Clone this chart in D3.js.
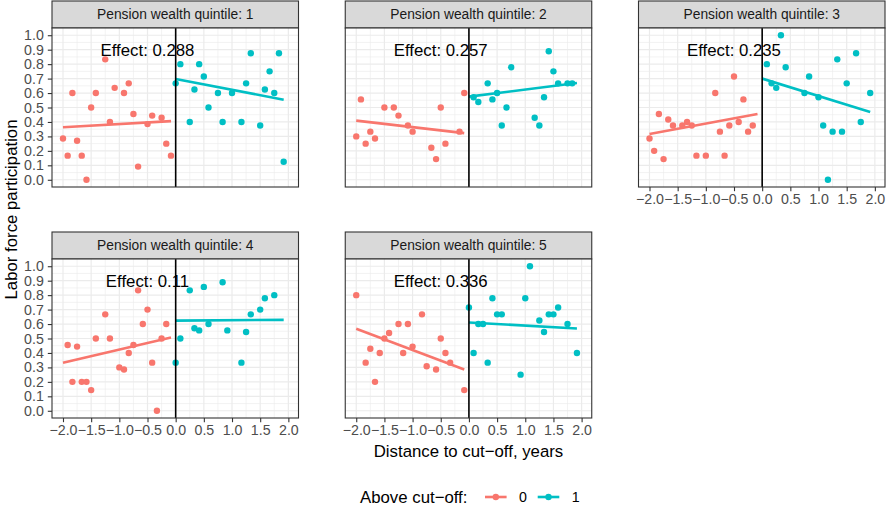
<!DOCTYPE html>
<html>
<head>
<meta charset="utf-8">
<script src="https://cdn.jsdelivr.net/npm/d3@7"></script>
<style>
  body { margin: 0; background: #fff; }
  svg { display: block; font-family: "Liberation Sans", Arial, Helvetica, sans-serif; }
</style>
</head>
<body>
<svg id="chart" width="886" height="506"></svg>
<script>
// values
const quintiles = [1, 2, 3, 4, 5];
const effects = ["0.288", "0.257", "0.235", "0.11", "0.336"];
const groups = ["0", "1"];

const q1Below = [[-2.0,0.286],[-1.917,0.167],[-1.833,0.6],[-1.75,0.27],[-1.667,0.167],[-1.583,0],[-1.5,0.5],[-1.417,0.6],[-1.25,0.833],[-1.167,0.4],[-1.083,0.636],[-0.917,0.6],[-0.833,0.667],[-0.75,0.455],[-0.667,0.091],[-0.5,0.385],[-0.417,0.444],[-0.25,0.429],[-0.167,0.25],[-0.083,0.167]];
const q1Above = [[0,0.667],[0.083,0.8],[0.25,0.4],[0.333,0.625],[0.417,0.8],[0.5,0.714],[0.583,0.5],[0.75,0.6],[0.833,0.4],[1.0,0.6],[1.167,0.4],[1.25,0.667],[1.333,0.875],[1.5,0.375],[1.583,0.625],[1.667,0.75],[1.75,0.6],[1.833,0.875],[1.917,0.125]];

const q2Below = [[-2.0,0.3],[-1.917,0.556],[-1.833,0.25],[-1.75,0.333],[-1.667,0.286],[-1.5,0.5],[-1.333,0.5],[-1.25,0.444],[-1.083,0.375],[-1.0,0.333],[-0.667,0.222],[-0.583,0.143],[-0.5,0.5],[-0.417,0.25],[-0.167,0.333],[-0.083,0.6]];
const q2Above = [[0.083,0.571],[0.167,0.538],[0.333,0.667],[0.417,0.556],[0.5,0.6],[0.583,0.375],[0.667,0.5],[0.75,0.778],[1.167,0.429],[1.25,0.375],[1.333,0.571],[1.417,0.889],[1.5,0.75],[1.583,0.667],[1.75,0.667],[1.833,0.667]];

const q3Below = [[-2.0,0.286],[-1.917,0.2],[-1.833,0.455],[-1.75,0.143],[-1.667,0.417],[-1.583,0.375],[-1.417,0.375],[-1.333,0.4],[-1.25,0.375],[-1.167,0.167],[-1.0,0.167],[-0.833,0.6],[-0.75,0.333],[-0.667,0.167],[-0.583,0.375],[-0.5,0.714],[-0.417,0.4],[-0.333,0.556],[-0.25,0.333],[-0.167,0.375]];
const q3Above = [[0.083,0.8],[0.167,0.667],[0.25,0.636],[0.333,1.0],[0.417,0.778],[0.75,0.6],[0.833,0.714],[1.0,0.571],[1.083,0.375],[1.167,0],[1.25,0.333],[1.333,0.833],[1.417,0.333],[1.5,0.667],[1.667,0.875],[1.75,0.4],[1.917,0.6]];

const q4Below = [[-1.917,0.455],[-1.833,0.2],[-1.75,0.444],[-1.667,0.2],[-1.583,0.2],[-1.5,0.143],[-1.417,0.5],[-1.25,0.667],[-1.167,0.5],[-1.0,0.3],[-0.917,0.286],[-0.833,0.4],[-0.75,0.455],[-0.667,0.833],[-0.583,0.6],[-0.5,0.7],[-0.417,0.333],[-0.333,0],[-0.25,0.5],[-0.167,0.6]];
const q4Above = [[0,0.333],[0.083,0.5],[0.25,0.833],[0.333,0.571],[0.417,0.556],[0.5,0.857],[0.583,0.6],[0.833,0.889],[0.917,0.556],[1.167,0.333],[1.25,0.545],[1.333,0.667],[1.5,0.7],[1.583,0.778],[1.75,0.8]];

const q5Below = [[-2.0,0.8],[-1.833,0.333],[-1.75,0.429],[-1.667,0.2],[-1.583,0.4],[-1.5,0.5],[-1.417,0.538],[-1.25,0.6],[-1.167,0.4],[-1.083,0.6],[-1.0,0.444],[-0.833,0.667],[-0.75,0.308],[-0.583,0.286],[-0.5,0.5],[-0.417,0.4],[-0.333,0.333],[-0.083,0.143]];
const q5Above = [[0,0.714],[0.083,0.4],[0.167,0.6],[0.25,0.6],[0.333,0.333],[0.417,0.778],[0.5,0.667],[0.583,0.667],[0.917,0.25],[1.0,0.778],[1.083,1.0],[1.25,0.625],[1.333,0.545],[1.417,0.667],[1.5,0.667],[1.583,0.714],[1.75,0.6],[1.917,0.4]];

// fitted lines, [x0, y0, x1, y1]
const fitBelow = [[-2.0,0.363,-0.083,0.406],[-2.0,0.409,-0.083,0.323],[-2.0,0.316,-0.083,0.455],[-2.0,0.332,-0.083,0.507],[-2.0,0.567,-0.083,0.286]];
const fitAbove = [[0,0.697,1.917,0.554],[0,0.575,1.917,0.67],[0,0.7,1.917,0.469],[0,0.624,1.917,0.629],[0,0.611,1.917,0.569]];

const belowPts = [q1Below, q2Below, q3Below, q4Below, q5Below];
const abovePts = [q1Above, q2Above, q3Above, q4Above, q5Above];

const xTicks = [-2.0, -1.5, -1.0, -0.5, 0.0, 0.5, 1.0, 1.5, 2.0];
const xMinor = [-1.75, -1.25, -0.75, -0.25, 0.25, 0.75, 1.25, 1.75];
const yTicks = [0, 0.1, 0.2, 0.3, 0.4, 0.5, 0.6, 0.7, 0.8, 0.9, 1.0];
const yMinor = [0.05, 0.15, 0.25, 0.35, 0.45, 0.55, 0.65, 0.75, 0.85, 0.95];

const svg = d3.select("#chart");
const color = d3.scaleOrdinal().domain(groups).range(["#F8766D", "#00BFC4"]);

const colX = [52, 345.25, 638.5];
const stripTop = [1, 232];
const pw = 246.5, stripH = 27, ph = 159;

const x = d3.scaleLinear().domain([-2.195, 2.18]).range([0, pw]);
const y = d3.scaleLinear().domain([-0.05, 1.05]).range([ph, 0]);

const tickFont = 14.2, stripFont = 13.8, titleFont = 16.8;

quintiles.forEach((q, i) => {
    const col = i % 3, row = Math.floor(i / 3);
    const px = colX[col], sy = stripTop[row], py = sy + stripH;

    // strip
    svg.append("rect")
        .attr("x", px).attr("y", sy).attr("width", pw).attr("height", stripH)
        .attr("fill", "#D9D9D9").attr("stroke", "#333333").attr("stroke-width", 1.1);
    svg.append("text")
        .attr("x", px + pw / 2).attr("y", sy + stripH / 2)
        .attr("dy", "0.35em").attr("text-anchor", "middle")
        .attr("font-size", stripFont).attr("fill", "#1A1A1A")
        .text(`Pension wealth quintile: ${q}`);

    const g = svg.append("g").attr("transform", `translate(${px},${py})`);

    g.append("rect").attr("width", pw).attr("height", ph).attr("fill", "#fff");

    // grid
    const grid = g.append("g").attr("stroke", "#EBEBEB").attr("fill", "none");
    grid.selectAll(".xmin").data(xMinor).join("line")
        .attr("x1", d => x(d)).attr("x2", d => x(d)).attr("y1", 0).attr("y2", ph).attr("stroke-width", 0.6);
    grid.selectAll(".ymin").data(yMinor).join("line")
        .attr("y1", d => y(d)).attr("y2", d => y(d)).attr("x1", 0).attr("x2", pw).attr("stroke-width", 0.6);
    grid.selectAll(".xmaj").data(xTicks).join("line")
        .attr("x1", d => x(d)).attr("x2", d => x(d)).attr("y1", 0).attr("y2", ph).attr("stroke-width", 1.2);
    grid.selectAll(".ymaj").data(yTicks).join("line")
        .attr("y1", d => y(d)).attr("y2", d => y(d)).attr("x1", 0).attr("x2", pw).attr("stroke-width", 1.2);

    // points
    const pts = [
        ...belowPts[i].map(d => ({ x: d[0], y: d[1], g: "0" })),
        ...abovePts[i].map(d => ({ x: d[0], y: d[1], g: "1" }))
    ];
    g.selectAll(".dot").data(pts).join("circle")
        .attr("class", "dot")
        .attr("cx", d => x(d.x)).attr("cy", d => y(d.y)).attr("r", 3.2)
        .attr("fill", d => color(d.g));

    // fitted lines
    [[fitBelow[i], "0"], [fitAbove[i], "1"]].forEach(([f, grp]) => {
        g.append("line")
            .attr("x1", x(f[0])).attr("y1", y(f[1]))
            .attr("x2", x(f[2])).attr("y2", y(f[3]))
            .attr("stroke", color(grp)).attr("stroke-width", 2.6);
    });

    // effect label
    g.append("text")
        .attr("x", x(-0.5)).attr("y", y(0.9)).attr("dy", "0.35em")
        .attr("text-anchor", "middle").attr("font-size", titleFont).attr("fill", "#000")
        .text(`Effect: ${effects[i]}`);

    // cut-off line
    g.append("line")
        .attr("x1", x(0)).attr("x2", x(0)).attr("y1", 0).attr("y2", ph)
        .attr("stroke", "#000").attr("stroke-width", 1.6);

    g.append("rect").attr("width", pw).attr("height", ph)
        .attr("fill", "none").attr("stroke", "#333333").attr("stroke-width", 1.1);

    // axes
    if (col === 0) {
        const ya = g.append("g").call(d3.axisLeft(y).tickValues(yTicks).tickFormat(d3.format(".1f")).tickSize(4.2).tickPadding(4));
        ya.select(".domain").remove();
        ya.selectAll(".tick line").attr("stroke", "#333333").attr("stroke-width", 1.1);
        ya.selectAll(".tick text").attr("font-size", tickFont).attr("fill", "#4D4D4D").attr("font-family", null);
    }
    if (row === 1 || col === 2) {
        const xa = g.append("g").attr("transform", `translate(0,${ph})`)
            .call(d3.axisBottom(x).tickValues(xTicks).tickFormat(d3.format(".1f")).tickSize(4.2).tickPadding(3));
        xa.select(".domain").remove();
        xa.selectAll(".tick line").attr("stroke", "#333333").attr("stroke-width", 1.1);
        xa.selectAll(".tick text").attr("font-size", tickFont).attr("fill", "#4D4D4D").attr("font-family", null);
    }
});

// axis titles
svg.append("text")
    .attr("x", (colX[0] + colX[2] + pw) / 2).attr("y", 451).attr("dy", "0.35em")
    .attr("text-anchor", "middle").attr("font-size", titleFont).attr("fill", "#000")
    .text("Distance to cut\u2212off, years");
svg.append("text")
    .attr("transform", `translate(11,${(stripTop[0] + stripTop[1] + stripH + ph) / 2}) rotate(-90)`)
    .attr("dy", "0.35em").attr("text-anchor", "middle")
    .attr("font-size", titleFont).attr("fill", "#000")
    .text("Labor force participation");

// legend
const legY = 497;
svg.append("text")
    .attr("x", 360).attr("y", legY).attr("dy", "0.35em")
    .attr("font-size", titleFont).attr("fill", "#000")
    .text("Above cut\u2212off:");
const keyX = [485, 537.7];
groups.forEach((grp, i) => {
    svg.append("line")
        .attr("x1", keyX[i]).attr("x2", keyX[i] + 21.6).attr("y1", legY).attr("y2", legY)
        .attr("stroke", color(grp)).attr("stroke-width", 2.6);
    svg.append("circle")
        .attr("cx", keyX[i] + 10.8).attr("cy", legY).attr("r", 3.2).attr("fill", color(grp));
    svg.append("text")
        .attr("x", keyX[i] + 34).attr("y", legY).attr("dy", "0.35em")
        .attr("font-size", tickFont).attr("fill", "#000")
        .text(grp);
});
</script>
</body>
</html>
